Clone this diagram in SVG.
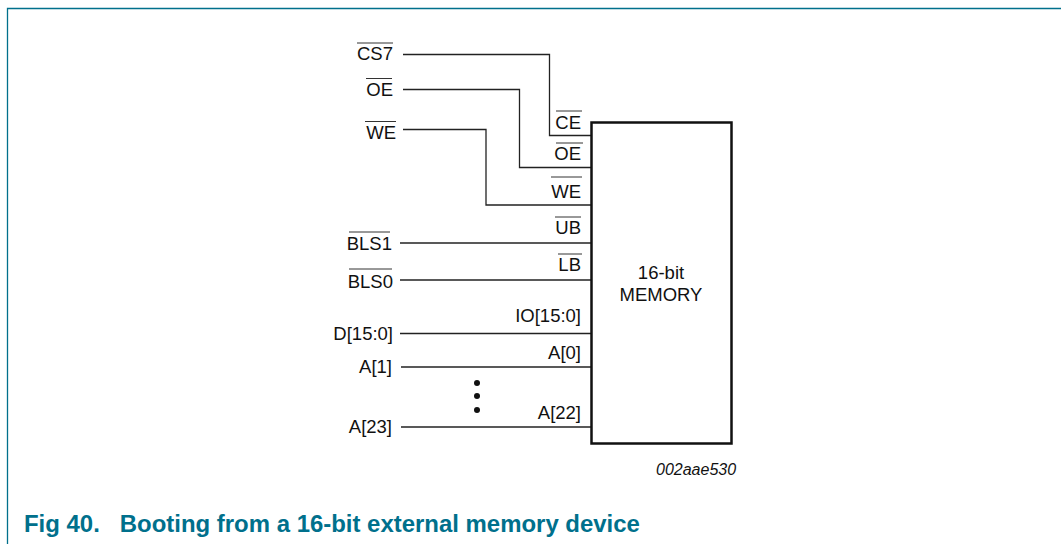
<svg xmlns="http://www.w3.org/2000/svg" width="1061" height="544" viewBox="0 0 1061 544">
<style>
text{font-family:"Liberation Sans",Arial,sans-serif;font-size:18.500px;fill:#111}
.e{text-anchor:end}
.m{text-anchor:middle}
.w{fill:none;stroke:#222;stroke-width:1.3}
.o{fill:none;stroke:#333;stroke-width:1}
.cap{font-weight:bold;font-size:23.950px;fill:#00708c}
.frame{fill:none;stroke:#00708c;stroke-width:1.3}
</style>
<rect width="1061" height="544" fill="#fff"/>
<path class="frame" d="M7.5 544V8.5H1061"/>
<g id="connectors">
<path class="w" d="M403 54.500H549.500V135.500H591"/>
<path class="w" d="M403 89.500H519.500V167.500H591"/>
<path class="w" d="M403 129.500H486V205H591"/>
<path class="w" d="M400 243H591"/>
<path class="w" d="M400 280H591"/>
<path class="w" d="M400 333.500H591"/>
<path class="w" d="M401 367H591"/>
<path class="w" d="M401 427H591"/>
</g>
<g id="memory">
<rect x="591.500" y="122.500" width="140" height="321" fill="#fff" stroke="#111" stroke-width="2.500"/>
<text class="m" x="661" y="279">16-bit</text>
<text class="m" x="661" y="301">MEMORY</text>
</g>
<g id="in-cs7"><text class="e" x="393" y="60">CS7</text><path class="o" d="M357 43H393"/></g>
<g id="in-oe"><text class="e" x="393" y="95.500">OE</text><path class="o" d="M366 78.500H392"/></g>
<g id="in-we"><text class="e" x="396" y="138.500">WE</text><path class="o" d="M365 121.500H396"/></g>
<g id="in-bls1"><text class="e" x="392" y="250">BLS1</text><path class="o" d="M349 232H390"/></g>
<g id="in-bls0"><text class="e" x="393" y="287.500">BLS0</text><path class="o" d="M349 269H392"/></g>
<g id="in-d"><text class="e" x="393" y="340">D[15:0]</text></g>
<g id="in-a1"><text class="e" x="392" y="373">A[1]</text></g>
<g id="in-a23"><text class="e" x="392" y="433">A[23]</text></g>
<g id="out-ce"><text class="e" x="581" y="128.500">CE</text><path class="o" d="M556 111H582"/></g>
<g id="out-oe"><text class="e" x="581" y="160">OE</text><path class="o" d="M556 143H583"/></g>
<g id="out-we"><text class="e" x="581" y="198">WE</text><path class="o" d="M551 177H582"/></g>
<g id="out-ub"><text class="e" x="581" y="234">UB</text><path class="o" d="M555 217H581"/></g>
<g id="out-lb"><text class="e" x="581" y="271">LB</text><path class="o" d="M558 254H582"/></g>
<g id="out-io"><text class="e" x="581" y="322">IO[15:0]</text></g>
<g id="out-a0"><text class="e" x="581" y="359">A[0]</text></g>
<g id="out-a22"><text class="e" x="581" y="419">A[22]</text></g>
<g id="dots" fill="#111"><circle cx="477" cy="383" r="3"/><circle cx="477" cy="396" r="3"/><circle cx="477" cy="410" r="3"/></g>
<text id="code" x="656" y="475" style="font-size:16px;font-style:italic">002aae530</text>
<text id="caption" class="cap" x="24" y="532" xml:space="preserve">Fig 40.   Booting from a 16-bit external memory device</text>
</svg>
